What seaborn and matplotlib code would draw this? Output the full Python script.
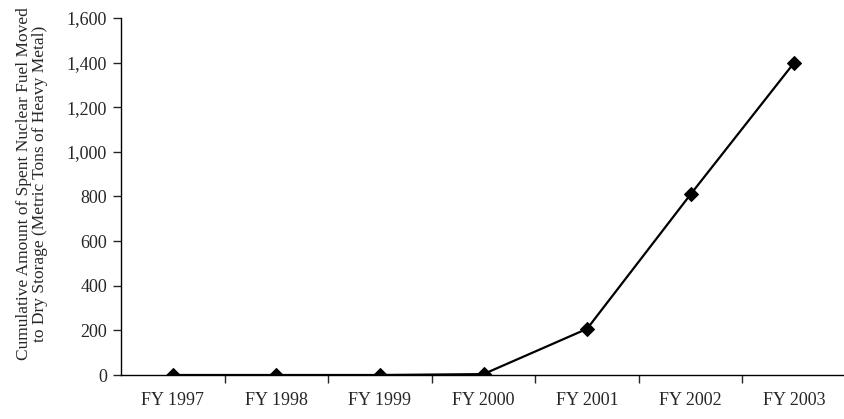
import pandas as pd
import numpy as np
import matplotlib.pyplot as plt
import matplotlib.ticker as mticker
import seaborn as sns

years = ["FY 1997", "FY 1998", "FY 1999", "FY 2000", "FY 2001", "FY 2002", "FY 2003"]
tons = [0, 0, 0, 4, 207, 810, 1400]

sns.set_style("white")
plt.rcParams['font.family'] = ['Liberation Serif', 'DejaVu Serif']

df = pd.DataFrame({"year": years, "tons": tons})

fig = plt.figure(figsize=(8.44, 4.19), dpi=100)
ax = fig.add_axes([121 / 844, 44 / 419, 725 / 844, 357 / 419])

sns.lineplot(data=df, x="year", y="tons", color="black", linewidth=1.6,
             marker="D", markersize=7, markeredgecolor="black", ax=ax)

ax.set_xlim(-0.5, len(years) - 0.5)
ax.set_ylim(0, 1600)
ax.yaxis.set_major_locator(mticker.MultipleLocator(200))
ax.yaxis.set_major_formatter(mticker.FuncFormatter(lambda v, p: f"{v:,.0f}"))

## ticks between categories on x, labels at categories
ax.set_xticks(range(len(years)))
ax.set_xticklabels(years)
ax.set_xticks(np.arange(0.5, len(years) - 0.5, 1), minor=True)
ax.tick_params(axis="x", which="major", length=0, pad=12, labelsize=13)
ax.tick_params(axis="x", which="minor", length=6, width=1, direction="out", bottom=True)
ax.tick_params(axis="y", which="major", length=6, width=1, direction="out", left=True, labelsize=13, pad=4)

for side in ["top", "right"]:
    ax.spines[side].set_visible(False)
for side in ["left", "bottom"]:
    ax.spines[side].set_color("black")
    ax.spines[side].set_linewidth(1)

ax.set_xlabel("")
ax.set_ylabel("Cumulative Amount of Spent Nuclear Fuel Moved\nto Dry Storage (Metric Tons of Heavy Metal)",
              fontsize=12.5, linespacing=1.05)
ax.yaxis.set_label_coords(-0.1, 0.535)

plt.savefig("out.png", dpi=100)
